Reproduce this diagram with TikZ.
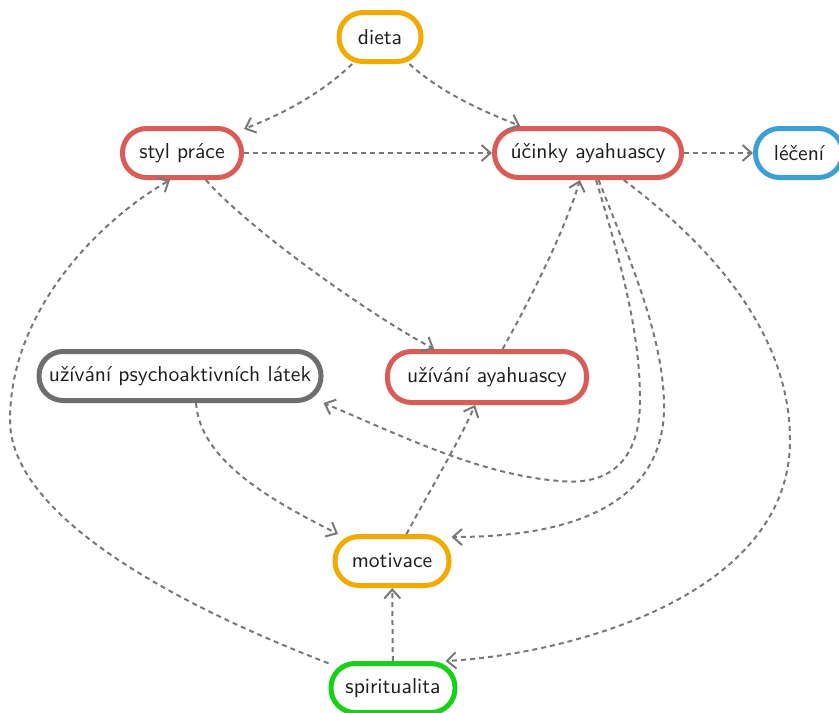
\documentclass[tikz,border=0pt]{standalone}
\usetikzlibrary{arrows.meta}
\definecolor{cred}{RGB}{217,92,86}
\definecolor{corange}{RGB}{240,170,0}
\definecolor{cblue}{RGB}{60,160,210}
\definecolor{cgraybox}{RGB}{110,110,110}
\definecolor{cgreen}{RGB}{20,210,20}
\definecolor{cedge}{RGB}{120,120,120}
\definecolor{ctext}{RGB}{30,30,30}
\begin{document}
\begin{tikzpicture}[x=0.5pt,y=-0.5pt,
  box/.style={draw, line width=2.5pt, rounded corners=12pt, fill=white,
    minimum height=24.5pt, inner xsep=3pt, font=\sffamily\fontsize{10.8}{13}\selectfont, text=ctext},
  edge/.style={draw=cedge, line width=1pt, dash pattern=on 2.5pt off 2pt,
    -{Straight Barb[length=4.5pt,width=8pt]}}]
\useasboundingbox (0,0) rectangle (839,712);
\node[box, draw=corange, minimum width=41pt] (dieta) at (380,37) {dieta};
\node[box, draw=cred, minimum width=59.5pt] (styl) at (182,153) {styl práce};
\node[box, draw=cred, minimum width=93.5pt] (ucinky) at (588,153) {účinky ayahuascy};
\node[box, draw=cblue, minimum width=43.5pt] (leceni) at (799,153) {léčení};
\node[box, draw=cgraybox, minimum width=141pt] (psycho) at (180,376) {užívání psychoaktivních látek};
\node[box, draw=cred, minimum width=99.5pt, minimum height=25.5pt] (ayah) at (487,377) {užívání ayahuascy};
\node[box, draw=corange, minimum width=57pt] (motiv) at (392,561) {motivace};
\node[box, draw=cgreen, minimum width=62pt] (spirit) at (393,688) {spiritualita};

\draw[edge] (dieta) .. controls (320,95) and (280,115) .. (styl);
\draw[edge] (dieta) .. controls (440,92) and (480,110) .. (ucinky);
\draw[edge] (styl) -- (ucinky);
\draw[edge] (ucinky) -- (leceni);
\draw[edge] (styl) .. controls (250,230) and (370,315) .. (ayah);
\draw[edge] (ayah) .. controls (530,300) and (565,230) .. (ucinky);
\draw[edge] (ucinky) .. controls (620,260) and (640,330) .. (640,400)
  .. controls (640,470) and (600,485) .. (560,481)
  .. controls (480,475) and (400,435) .. (psycho.south east);
\draw[edge] (ucinky) .. controls (630,260) and (665,340) .. (664,410)
  .. controls (662,500) and (580,537) .. ([yshift=-1.5pt]motiv.north east);
\draw[edge] (ucinky) .. controls (690,230) and (790,320) .. (790,440)
  .. controls (790,600) and (560,655) .. ([xshift=-6pt]spirit.north east);
\draw[edge] ([xshift=8pt]psycho.south) .. controls (200,460) and (270,500) .. (motiv);
\draw[edge] (motiv) .. controls (430,490) and (460,440) .. (ayah);
\draw[edge] (spirit) -- (motiv);
\draw[edge] (spirit) .. controls (190,610) and (10,520) .. (10,420)
  .. controls (10,310) and (100,220) .. ([xshift=-6pt]styl.south);
\end{tikzpicture}
\end{document}
